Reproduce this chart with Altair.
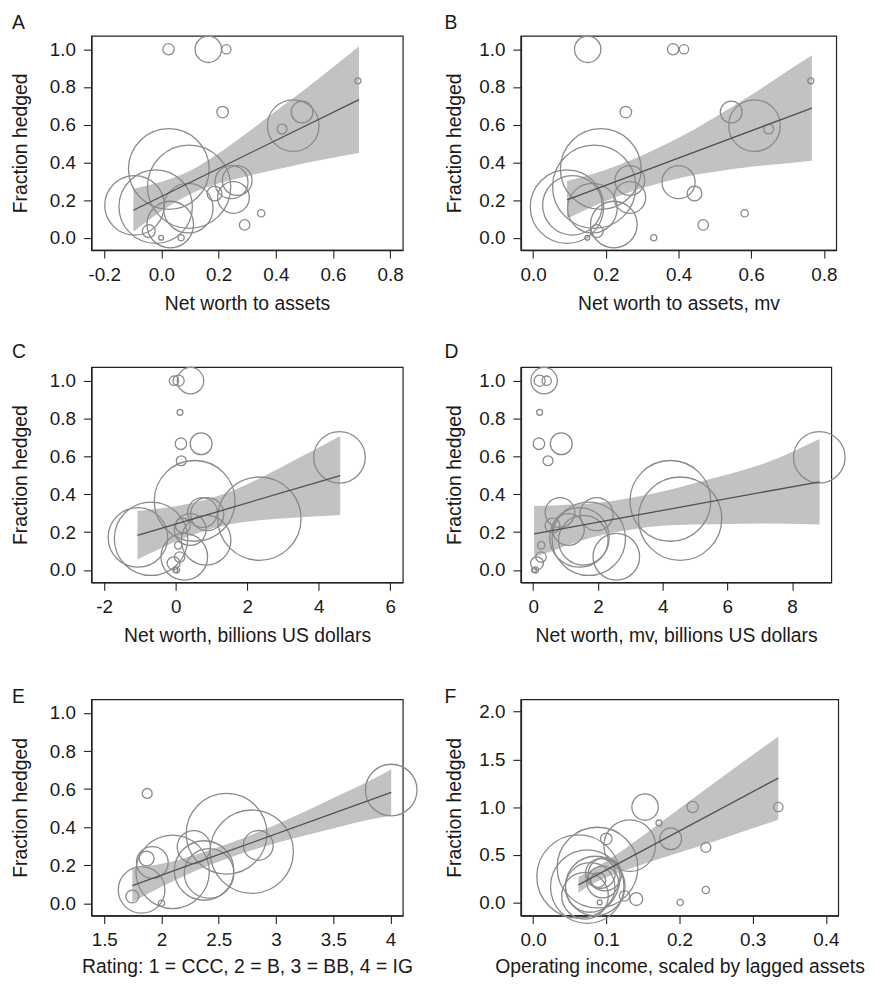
import altair as alt
import pandas as pd

FONT = "Liberation Sans"

# ---- firm-level data (23 firms) ----
hedged = [1.0, 1.0, 1.0, 0.833, 0.667, 0.667, 0.577, 0.595, 0.365, 0.271, 0.304, 0.295,
          0.235, 0.214, 0.172, 0.165, 0.157, 0.07, 0.13, 0.068, 0.035, 0.0, 0.0]
weight = [32, 177, 22, 9, 34, 121, 25, 676, 1656, 1764, 225, 279,
          56, 256, 900, 1369, 625, 552, 14, 28, 42, 10, 6]
nw_assets = [0.025, 0.164, 0.227, 0.687, 0.214, 0.492, 0.422, 0.461, 0.026, 0.097, 0.265, 0.245,
             0.186, 0.252, -0.094, -0.02, 0.094, 0.031, 0.349, 0.291, -0.044, 0.069, -0.001]
nw_assets_mv = [0.385, 0.150, 0.415, 0.764, 0.255, 0.545, 0.648, 0.609, 0.186, 0.168, 0.266, 0.400,
                0.444, 0.266, 0.108, 0.093, 0.163, 0.222, 0.582, 0.468, 0.175, 0.332, 0.149]
nw_bil = [0.08, 0.414, -0.05, 0.12, 0.146, 0.71, 0.155, 4.58, 0.53, 2.34, 0.75, 0.88,
          0.20, 0.405, -1.057, -0.69, 0.85, 0.24, 0.07, 0.11, -0.06, 0.02, -0.01]
nw_mv_bil = [0.20, 0.34, 0.42, 0.20, 0.18, 0.87, 0.46, 8.84, 4.24, 4.54, 0.83, 1.96,
             0.60, 1.09, 1.43, 1.72, 1.55, 2.57, 0.25, 0.245, 0.12, 0.07, 0.03]
rating = [None, None, None, None, None, None, 1.875, 4.006, 2.568, 2.788, 2.845, 2.282,
          1.87, 1.92, 2.372, 2.097, 2.415, 1.826, None, None, 1.745, 2.0, None]
op_income = [0.218, 0.153, 0.335, 0.172, 0.100, 0.188, 0.236, 0.132, 0.088, 0.062, 0.092, 0.098,
             0.089, 0.095, 0.085, 0.074, 0.078, 0.071, 0.236, 0.125, 0.141, 0.201, 0.091]

# ---- fitted lines (end points) and confidence bands ----
lineA_x = [-0.098, 0.691]; lineA_y = [0.146, 0.733]
bandA_x = [-0.098, 0.0, 0.1, 0.2, 0.3, 0.4, 0.5, 0.6, 0.691]
bandA_hi = [0.26, 0.297, 0.355, 0.448, 0.557, 0.672, 0.786, 0.905, 1.016]
bandA_lo = [0.032, 0.141, 0.231, 0.288, 0.327, 0.362, 0.396, 0.425, 0.45]

lineB_x = [0.093, 0.767]; lineB_y = [0.201, 0.688]
bandB_x = [0.093, 0.15, 0.23, 0.32, 0.41, 0.5, 0.6, 0.7, 0.767]
bandB_hi = [0.301, 0.33, 0.382, 0.455, 0.54, 0.64, 0.757, 0.885, 0.968]
bandB_lo = [0.101, 0.154, 0.218, 0.275, 0.32, 0.35, 0.377, 0.395, 0.408]

lineC_x = [-1.07, 4.6]; lineC_y = [0.183, 0.499]
bandC_x = [-1.07, -0.5, 0.0, 0.8, 1.6, 2.5, 3.4, 4.6]
bandC_hi = [0.311, 0.323, 0.336, 0.37, 0.42, 0.499, 0.587, 0.708]
bandC_lo = [0.055, 0.107, 0.15, 0.206, 0.244, 0.265, 0.277, 0.29]

lineD_x = [0.03, 8.85]; lineD_y = [0.191, 0.466]
bandD_x = [0.03, 0.5, 1.0, 2.0, 3.0, 4.0, 5.0, 6.0, 7.0, 8.85]
bandD_hi = [0.338, 0.34, 0.344, 0.355, 0.38, 0.415, 0.46, 0.505, 0.555, 0.692]
bandD_lo = [0.069, 0.095, 0.128, 0.18, 0.213, 0.233, 0.24, 0.243, 0.245, 0.24]

lineE_x = [1.745, 4.006]; lineE_y = [0.092, 0.583]
bandE_x = [1.745, 2.0, 2.3, 2.6, 2.9, 3.2, 3.5, 3.8, 4.006]
bandE_hi = [0.18, 0.207, 0.255, 0.316, 0.388, 0.468, 0.553, 0.638, 0.705]
bandE_lo = [0.005, 0.087, 0.171, 0.24, 0.298, 0.348, 0.393, 0.438, 0.46]

lineF_x = [0.062, 0.335]; lineF_y = [0.184, 1.304]
bandF_x = [0.062, 0.08, 0.1, 0.15, 0.2, 0.25, 0.3, 0.335]
bandF_hi = [0.269, 0.34, 0.432, 0.70, 0.984, 1.268, 1.547, 1.741]
bandF_lo = [0.099, 0.19, 0.262, 0.40, 0.524, 0.648, 0.777, 0.867]

# ---- axis ticks ----
ticksA = [-0.2, 0.0, 0.2, 0.4, 0.6, 0.8]
ticksB = [0.0, 0.2, 0.4, 0.6, 0.8]
ticksC = [-2, 0, 2, 4, 6]
ticksD = [0, 2, 4, 6, 8]
ticksE = [1.5, 2, 2.5, 3, 3.5, 4]
ticksF = [0.0, 0.1, 0.2, 0.3, 0.4]
ticksY = [0.0, 0.2, 0.4, 0.6, 0.8, 1.0]
ticksYF = [0.0, 0.5, 1.0, 1.5, 2.0]

TEXT = "#1a1a1a"
CIRCLE = "#8a8a8a"
BAND = "#c2c2c2"
LINE = "#505050"
FRAME = "#222222"


def fmt(spec):
    return ("datum.value < 0 ? '-' + format(-datum.value, '%s') : format(datum.value, '%s')"
            % (spec, spec))


def panel(letter, xs, xdom, xticks, xfmt, xtitle, ydom, yticks,
          bx, blo, bhi, lx, ly, width, height, letter_dx, letter_dy,
          ytitle_x, xlab_base, xtitle_base):
    pts = pd.DataFrame({"x": xs, "y": hedged, "w": weight}).dropna()
    band = pd.DataFrame({"x": bx, "lo": blo, "hi": bhi})
    line = pd.DataFrame({"x": lx, "y": ly})
    xs_ = alt.Scale(domain=xdom, nice=False, zero=False)
    ys_ = alt.Scale(domain=ydom, nice=False, zero=False)
    xaxis = alt.Axis(values=xticks, labelExpr=fmt(xfmt), title=xtitle, grid=False,
                     tickSize=8, labelPadding=xlab_base - 8, labelBaseline="alphabetic",
                     titleY=xtitle_base, titleBaseline="alphabetic",
                     labelFlush=False, labelOverlap=False, labelBound=False)
    yaxis = alt.Axis(values=yticks, format=".1f", title="Fraction hedged", grid=False,
                     tickSize=8, labelPadding=8, titleX=ytitle_x,
                     titleBaseline="alphabetic", labelOverlap=False,
                     labelFlush=False, labelBound=False)
    b = alt.Chart(band).mark_area(color=BAND, opacity=1, interpolate="monotone").encode(
        x=alt.X("x:Q", scale=xs_, axis=xaxis),
        y=alt.Y("lo:Q", scale=ys_, axis=yaxis),
        y2="hi:Q",
    )
    p = alt.Chart(pts).mark_point(shape="circle", filled=False, color=CIRCLE,
                                  strokeWidth=1.3, opacity=1).encode(
        x="x:Q", y="y:Q",
        size=alt.Size("w:Q", scale=alt.Scale(domain=[0, 1764], range=[0, 4 * 1764]),
                      legend=None),
    )
    l = alt.Chart(line).mark_line(color=LINE, strokeWidth=1.3).encode(x="x:Q", y="y:Q")
    return alt.layer(b, p, l).properties(
        width=width, height=height,
        title=alt.TitleParams(letter, anchor="start", frame="group", dx=letter_dx,
                              dy=letter_dy, offset=0, baseline="alphabetic", fontSize=19.5,
                              fontWeight="normal", font=FONT, color=TEXT),
    )


Y1 = [-0.065, 1.072]
A = panel("A", nw_assets, [-0.245, 0.844], ticksA, ".1f", "Net worth to assets", Y1, ticksY,
          bandA_x, bandA_lo, bandA_hi, lineA_x, lineA_y, 314, 216, -80, 15, -65, 31, 60)
B = panel("B", nw_assets_mv, [-0.034, 0.834], ticksB, ".1f", "Net worth to assets, mv", Y1, ticksY,
          bandB_x, bandB_lo, bandB_hi, lineB_x, lineB_y, 318, 216, -77, 15, -61, 31, 60)
C = panel("C", nw_bil, [-2.36, 6.35], ticksC, "d", "Net worth, billions US dollars", Y1, ticksY,
          bandC_x, bandC_lo, bandC_hi, lineC_x, lineC_y, 314, 217, -80, 12.5, -65, 30, 60)
D = panel("D", nw_mv_bil, [-0.38, 9.21], ticksD, "d", "Net worth, mv, billions US dollars", Y1, ticksY,
          bandD_x, bandD_lo, bandD_hi, lineD_x, lineD_y, 313, 217, -77, 12.5, -61, 30, 60)
E = panel("E", rating, [1.387, 4.107], ticksE, "~g", "Rating: 1 = CCC, 2 = B, 3 = BB, 4 = IG", Y1, ticksY,
          bandE_x, bandE_lo, bandE_hi, lineE_x, lineE_y, 314, 218, -80, 23, -65, 30, 57)
F = panel("F", op_income, [-0.0167, 0.4168], ticksF, ".1f", "Operating income, scaled by lagged assets",
          [-0.138, 2.13], ticksYF,
          bandF_x, bandF_lo, bandF_hi, lineF_x, lineF_y, 320, 218, -77, 23, -61, 30, 57)

chart = alt.concat(A, B, C, D, E, F, columns=2, spacing={"row": 118, "column": 119},
                   bounds="flush", align="each").properties(
    padding={"left": 2, "top": 0, "right": 0, "bottom": 0}
).configure(font=FONT).configure_view(
    stroke=FRAME, strokeWidth=1.2
).configure_axis(
    labelFont=FONT, titleFont=FONT, labelFontSize=19, titleFontSize=19.5,
    titleFontWeight="normal", labelColor=TEXT, titleColor=TEXT,
    domainColor=FRAME, domainWidth=1.6, tickColor=FRAME, tickWidth=1.1,
)

chart.save("out.html", embed_options={"renderer": "svg", "actions": False})
